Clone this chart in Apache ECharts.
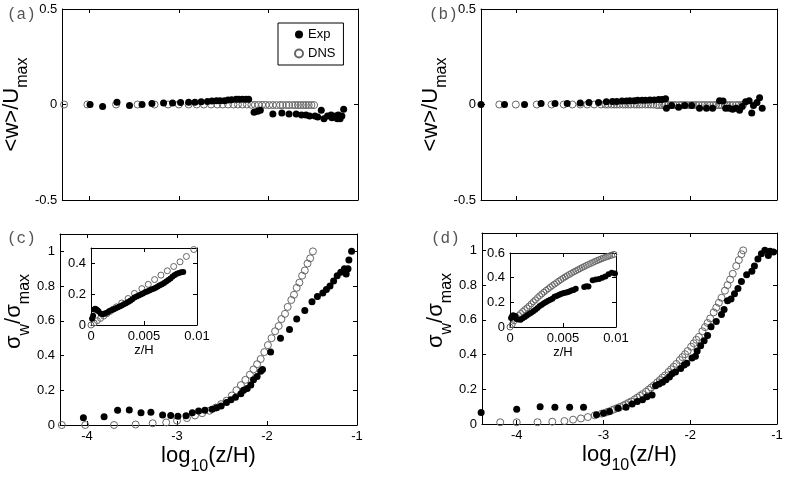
<!DOCTYPE html>
<html>
<head>
<meta charset="utf-8">
<script src="https://cdn.jsdelivr.net/npm/echarts@6/dist/echarts.min.js"></script>
<style>
  html, body { margin: 0; padding: 0; background: #fff; }
  #chart { width: 800px; height: 481px; }
</style>
</head>
<body>
<div id="chart"></div>
<script>
// tick positions
const logTicks = [-4, -3, -2, -1]
const wTicks = [-0.5, 0, 0.5]
const sigTicks = [0, 0.2, 0.4, 0.6, 0.8, 1]
const insetXTicks = [0, 0.005, 0.01]
const insetYTicksC = [0, 0.2, 0.4]
const insetYTicksD = [0, 0.2, 0.4, 0.6]

// (a) <w>/Umax, experiment [log10(z/H), value]
const expA = [[-3.99,0],[-3.85,-0.01],[-3.69,0.012],[-3.55,-0.005],[-3.41,0],[-3.30,0.005],[-3.17,0.008],[-3.07,0.008],
  [-2.98,0.01],[-2.89,0.012],[-2.82,0.012],[-2.75,0.014],[-2.68,0.016],[-2.63,0.018],[-2.58,0.02],[-2.54,0.02],
  [-2.49,0.02],[-2.45,0.023],[-2.41,0.025],[-2.36,0.027],[-2.33,0.028],[-2.29,0.028],[-2.25,0.028],[-2.22,0.028],
  [-2.16,-0.04],[-2.12,-0.035],[-2.09,-0.03],[-1.95,-0.05],[-1.85,-0.045],[-1.77,-0.05],[-1.69,-0.05],[-1.63,-0.055],
  [-1.58,-0.055],[-1.54,-0.06],[-1.48,-0.06],[-1.45,-0.065],[-1.41,-0.03],[-1.38,-0.075],[-1.34,-0.06],[-1.30,-0.055],
  [-1.29,-0.07],[-1.25,-0.06],[-1.23,-0.075],[-1.22,-0.055],[-1.20,-0.075],[-1.18,-0.06],[-1.16,-0.025]]

// DNS positions for (a) and (c)
const dnsXac = [-4.28,-4.02,-3.70,-3.46,-3.27,-3.12,-3.00,-2.89,-2.80,-2.72,-2.64,-2.57,-2.51,-2.45,-2.39,-2.34,
  -2.29,-2.24,-2.19,-2.15,-2.11,-2.07,-2.03,-1.99,-1.95,-1.91,-1.87,-1.84,-1.80,-1.77,-1.73,-1.70,-1.67,-1.64,
  -1.61,-1.58,-1.55,-1.52,-1.49]
const dnsYa = [0,0,0,0,0,0,0,0,0,0,0,0,0,0,0,0,0,0,-0.002,-0.002,-0.002,-0.002,-0.002,-0.003,-0.003,-0.003,
  -0.003,-0.003,-0.003,-0.003,-0.003,-0.003,-0.003,-0.003,-0.003,-0.003,-0.003,-0.003,-0.003]
const dnsYc = [0,0,0,0.003,0.01,0.015,0.025,0.04,0.055,0.068,0.082,0.1,0.12,0.14,0.17,0.2,0.23,0.26,0.29,0.32,
  0.35,0.38,0.42,0.46,0.5,0.54,0.57,0.61,0.64,0.68,0.72,0.75,0.79,0.82,0.86,0.89,0.93,0.96,1.0]

// (b) <w>/Umax, experiment
const expB = [[-4.40,0],[-4.13,0],[-3.90,0],[-3.71,0.005],[-3.55,0.005],[-3.41,0.005],[-3.26,0.008],[-3.16,0.01],
  [-3.05,0.01],[-2.96,0.014],[-2.89,0.016],[-2.84,0.016],[-2.78,0.018],[-2.73,0.018],[-2.69,0.02],[-2.64,0.02],
  [-2.60,0.022],[-2.55,0.022],[-2.51,0.022],[-2.46,0.024],[-2.41,0.024],[-2.36,0.026],[-2.32,0.026],[-2.28,0.03],
  [-2.27,-0.02],[-2.21,-0.005],[-2.13,-0.015],[-2.06,-0.005],[-1.98,-0.005],[-1.89,-0.02],[-1.81,-0.02],[-1.74,-0.02],
  [-1.66,0.02],[-1.62,0.018],[-1.59,-0.02],[-1.55,-0.02],[-1.51,-0.025],[-1.47,-0.02],[-1.43,-0.03],[-1.40,-0.01],
  [-1.36,0.015],[-1.32,0.02],[-1.29,-0.045],[-1.27,-0.005],[-1.23,0.01],[-1.20,0.035],[-1.17,-0.02]]

// DNS positions for (b) and (d)
const dnsXbd = [-4.19,-4.00,-3.76,-3.59,-3.45,-3.35,-3.26,-3.18,-3.10,-3.02,
  -2.97,-2.94,-2.90,-2.87,-2.84,-2.81,-2.77,-2.74,-2.71,-2.68,-2.64,-2.61,-2.58,-2.55,-2.51,-2.48,-2.45,-2.42,
  -2.38,-2.35,-2.32,-2.29,-2.25,-2.22,-2.19,-2.16,-2.12,-2.09,-2.06,-2.03,-1.99,-1.96,-1.93,-1.90,-1.86,-1.83,
  -1.80,-1.77,-1.73,-1.70,-1.67,-1.64,-1.60,-1.57,-1.54,-1.51,-1.47,-1.44,-1.41,-1.39]
const dnsYb = [0,0,0,0,0,0,0,0,0,0,
  0,0,0,0,0,0,0,0,0,0,0,0,0,0,0,0,0,0,
  -0.003,-0.003,-0.003,-0.003,-0.003,-0.003,-0.003,-0.003,-0.003,-0.003,-0.003,-0.003,-0.003,-0.003,-0.003,-0.003,-0.003,-0.003,
  -0.003,-0.003,-0.003,-0.003,-0.003,-0.003,-0.003,-0.003,-0.003,-0.003,-0.003,-0.003,-0.003,-0.003]
const dnsYd = [0.01,0.01,0.01,0.013,0.017,0.025,0.032,0.04,0.05,0.06,
  0.067,0.072,0.08,0.086,0.092,0.098,0.107,0.114,0.122,0.13,0.142,0.152,0.162,0.172,0.186,0.198,0.21,0.222,
  0.24,0.253,0.267,0.28,0.3,0.315,0.33,0.346,0.368,0.385,0.402,0.42,0.445,0.465,0.485,0.502,0.534,0.558,
  0.582,0.608,0.643,0.67,0.698,0.727,0.768,0.8,0.832,0.865,0.91,0.944,0.978,1.0]

// (c) sigma_w/sigma_max, experiment
const expC = [[-4.04,0.042],[-3.81,0.048],[-3.66,0.085],[-3.53,0.086],[-3.40,0.071],[-3.29,0.073],[-3.16,0.057],
  [-3.07,0.054],[-2.99,0.05],[-2.90,0.053],[-2.83,0.07],[-2.76,0.08],[-2.69,0.085],[-2.61,0.09],[-2.56,0.1],
  [-2.51,0.11],[-2.45,0.13],[-2.40,0.145],[-2.35,0.16],[-2.29,0.18],[-2.26,0.2],[-2.22,0.21],[-2.18,0.23],
  [-2.15,0.26],[-2.11,0.28],[-2.07,0.31],[-2.05,0.32],[-1.96,0.42],[-1.85,0.5],[-1.75,0.55],[-1.67,0.61],
  [-1.58,0.66],[-1.50,0.71],[-1.44,0.74],[-1.38,0.76],[-1.34,0.78],[-1.30,0.80],[-1.26,0.83],[-1.22,0.86],
  [-1.18,0.88],[-1.14,0.9],[-1.12,0.87],[-1.10,0.9],[-1.09,0.95],[-1.06,1.0]]

// (d) sigma_w/sigma_max, experiment
const expD = [[-4.41,0.066],[-4.00,0.085],[-3.73,0.1],[-3.56,0.097],[-3.39,0.097],[-3.23,0.097],[-3.08,0.053],
  [-3.00,0.062],[-2.93,0.072],[-2.83,0.09],[-2.74,0.097],[-2.67,0.115],[-2.61,0.13],[-2.55,0.14],[-2.50,0.157],
  [-2.44,0.167],[-2.40,0.22],[-2.36,0.23],[-2.32,0.24],[-2.28,0.255],[-2.24,0.27],[-2.21,0.29],[-2.17,0.3],
  [-2.11,0.32],[-2.07,0.34],[-2.04,0.35],[-1.98,0.38],[-1.94,0.39],[-1.92,0.42],[-1.88,0.45],[-1.84,0.48],
  [-1.80,0.51],[-1.76,0.56],[-1.70,0.59],[-1.64,0.63],[-1.61,0.66],[-1.57,0.71],[-1.53,0.72],[-1.49,0.75],
  [-1.45,0.78],[-1.41,0.82],[-1.35,0.86],[-1.29,0.88],[-1.26,0.91],[-1.22,0.95],[-1.18,0.98],[-1.14,1.0],
  [-1.10,0.97],[-1.08,0.995],[-1.04,0.99]]

// insets, linear z/H
const insetExpC = [[0.0001,0.04],[0.0002,0.06],[0.0003,0.1],[0.0004,0.105],[0.0005,0.1],[0.0006,0.095],[0.0007,0.09],
  [0.0009,0.075],[0.0011,0.07],[0.0013,0.075],[0.0015,0.08],[0.0017,0.09],[0.0019,0.095],[0.0021,0.1],[0.0023,0.107],
  [0.0025,0.113],[0.0027,0.12],[0.0029,0.127],[0.0031,0.135],[0.0033,0.142],[0.0035,0.15],[0.0037,0.157],[0.0039,0.168],
  [0.0041,0.178],[0.0043,0.185],[0.0045,0.192],[0.0047,0.198],[0.0049,0.205],[0.0051,0.212],[0.0053,0.218],
  [0.0055,0.224],[0.0057,0.23],[0.0059,0.236],[0.0061,0.242],[0.0063,0.25],[0.0065,0.258],[0.0067,0.265],
  [0.0069,0.273],[0.0071,0.282],[0.0073,0.292],[0.0075,0.302],[0.0077,0.315],[0.0079,0.325],[0.0081,0.332],
  [0.0083,0.338],[0.0085,0.342],[0.0087,0.344]]
const insetDnsC = [[0,0],[0.0003,0.013],[0.0006,0.028],[0.0009,0.043],[0.0012,0.058],[0.0015,0.073],[0.0018,0.088],
  [0.0021,0.103],[0.0024,0.118],[0.0029,0.143],[0.0035,0.172],[0.0041,0.205],[0.0048,0.236],[0.0054,0.264],
  [0.006,0.295],[0.0066,0.324],[0.0072,0.352],[0.0078,0.38],[0.0084,0.41],[0.009,0.445],[0.0097,0.49]]
const insetExpD = [[0.0001,0.073],[0.0002,0.09],[0.0003,0.095],[0.0004,0.085],[0.0005,0.09],[0.0006,0.065],[0.0008,0.06],
  [0.001,0.058],[0.0012,0.07],[0.0014,0.082],[0.0016,0.093],[0.0018,0.105],[0.002,0.115],[0.0022,0.128],[0.0024,0.14],
  [0.0026,0.155],[0.0028,0.17],[0.003,0.18],[0.0032,0.193],[0.0034,0.203],[0.0036,0.213],[0.0038,0.22],[0.004,0.23],
  [0.0042,0.245],[0.0044,0.252],[0.0046,0.26],[0.0048,0.267],[0.005,0.273],[0.0052,0.277],[0.0054,0.282],
  [0.0056,0.288],[0.0058,0.295],[0.006,0.3],[0.0062,0.31],[0.007,0.325],[0.0072,0.33],[0.0074,0.328],[0.0078,0.38],
  [0.0081,0.386],[0.0084,0.39],[0.0087,0.4],[0.009,0.41],[0.0093,0.427],[0.0096,0.44],[0.0099,0.433]]
const insetDnsDX = [0,0.0002,0.0004,0.0006,0.0008,0.001,0.0012,0.0014,0.0016,0.0018,0.002,0.0022,0.0024,0.0026,
  0.0028,0.003,0.0032,0.0034,0.0036,0.0038,0.004,0.0042,0.0044,0.0046,0.0048,0.005,0.0052,0.0054,0.0056,0.0058,
  0.006,0.0062,0.0064,0.0066,0.0068,0.007,0.0072,0.0074,0.0076,0.0078,0.008,0.0082,0.0084,0.0086,0.0088,0.009,
  0.0092,0.0094,0.0096,0.0098]
const insetDnsDY = [0,0.02,0.05,0.075,0.093,0.11,0.126,0.141,0.155,0.17,0.188,0.205,0.22,0.238,0.254,0.268,0.283,
  0.297,0.31,0.323,0.336,0.348,0.36,0.372,0.384,0.395,0.406,0.416,0.426,0.436,0.446,0.455,0.464,0.473,0.482,0.49,
  0.499,0.507,0.515,0.523,0.531,0.538,0.545,0.552,0.559,0.565,0.571,0.577,0.583,0.589]

const zip = (xs, ys) => xs.map((x, i) => [x, ys[i]])

const FONT = 'Liberation Sans'
const grids = [
  { left: 60, top: 9, width: 298, height: 191 },
  { left: 481, top: 9, width: 296, height: 191 },
  { left: 60, top: 234, width: 297, height: 191 },
  { left: 482, top: 233, width: 295, height: 191 },
  { left: 91, top: 248, width: 106, height: 77, show: true, backgroundColor: '#fff', borderWidth: 0, z: 5 },
  { left: 510, top: 253, width: 106, height: 74, show: true, backgroundColor: '#fff', borderWidth: 0, z: 5 }
]

const xAxes = []
const yAxes = []

function axisBase(gridIndex, min, max, ticks, showLabel, position, fontSize) {
  return {
    type: 'value', gridIndex: gridIndex, min: min, max: max, position: position,
    axisLine: { show: true, onZero: false, lineStyle: { color: '#000', width: 1 } },
    axisTick: { show: true, inside: true, length: 4, customValues: ticks, lineStyle: { color: '#000' } },
    axisLabel: { show: showLabel, customValues: ticks, color: '#000', fontSize: fontSize, fontFamily: FONT, margin: 5 },
    splitLine: { show: false },
    z: gridIndex >= 4 ? 6 : 1
  }
}

function addAxes(g, xr, xt, showX, yr, yt, fs, xName, yName) {
  const xb = axisBase(g, xr[0], xr[1], xt, showX, 'bottom', fs)
  if (xName) Object.assign(xb, xName)
  xAxes.push(xb, axisBase(g, xr[0], xr[1], xt, false, 'top', fs))
  const yl = axisBase(g, yr[0], yr[1], yt, true, 'left', fs)
  if (yName) Object.assign(yl, yName)
  yAxes.push(yl, axisBase(g, yr[0], yr[1], yt, false, 'right', fs))
}

const subRich = {
  a: { fontSize: 22, fontFamily: FONT, color: '#000', lineHeight: 30, verticalAlign: 'top' },
  s: { fontSize: 16, fontFamily: FONT, color: '#000', lineHeight: 16, verticalAlign: 'bottom' }
}
const logName = {
  name: '{a|log}{s|10}{a|(z/H)}', nameLocation: 'middle', nameGap: 20,
  nameTextStyle: { rich: subRich }
}
const wName = {
  name: '{a|<w>/U}{s|max}', nameLocation: 'middle', nameGap: 27, nameRotate: 90,
  nameTextStyle: { rich: subRich }
}
const sigName = {
  name: '{a|σ}{s|w}{a|/σ}{s|max}', nameLocation: 'middle', nameGap: 27, nameRotate: 90,
  nameTextStyle: { rich: subRich, padding: [0, 0, 0, 36] }
}
const zhName = {
  name: 'z/H', nameLocation: 'middle', nameGap: 18,
  nameTextStyle: { fontSize: 13, fontFamily: FONT, color: '#000' }
}

addAxes(0, [-4.3, -1], logTicks, false, [-0.5, 0.5], wTicks, 13, null, wName)
addAxes(1, [-4.4, -1], logTicks, false, [-0.5, 0.5], wTicks, 13, null, wName)
addAxes(2, [-4.3, -1], logTicks, true, [0, 1.1], sigTicks, 13, logName, sigName)
addAxes(3, [-4.4, -1], logTicks, true, [0, 1.1], sigTicks, 13, logName, sigName)
addAxes(4, [0, 0.01], insetXTicks, true, [0, 0.5], insetYTicksC, 13, zhName, null)
addAxes(5, [0, 0.01], insetXTicks, true, [0, 0.6], insetYTicksD, 13, zhName, null)

function expSeries(g, data, size) {
  return {
    name: 'Exp', type: 'scatter', xAxisIndex: 2 * g, yAxisIndex: 2 * g, data: data,
    symbol: 'circle', symbolSize: size, itemStyle: { color: '#000', opacity: 1 },
    z: g >= 4 ? 8 : 3, clip: false, silent: true
  }
}
function dnsSeries(g, data, size) {
  return {
    name: 'DNS', type: 'scatter', xAxisIndex: 2 * g, yAxisIndex: 2 * g, data: data,
    symbol: 'circle', symbolSize: size,
    itemStyle: { color: 'rgba(255,255,255,0)', borderColor: '#666', borderWidth: 1, opacity: 1 },
    z: g >= 4 ? 7 : 2, clip: false, silent: true
  }
}

const panelLabel = (text, x, y) => ({
  type: 'text', left: x, top: y,
  style: { text: text, font: '16px "Liberation Mono"', fill: '#555' }
})

const chart = echarts.init(document.getElementById('chart'), null, { renderer: 'canvas' })
chart.setOption({
  backgroundColor: '#fff',
  animation: false,
  grid: grids,
  xAxis: xAxes,
  yAxis: yAxes,
  legend: {
    data: ['Exp', 'DNS'], orient: 'vertical', left: 278, top: 23,
    backgroundColor: '#fff', borderColor: '#000', borderWidth: 1,
    padding: [5, 8, 5, 16], itemGap: 6, itemWidth: 8, itemHeight: 8,
    textStyle: { fontSize: 13, fontFamily: FONT, color: '#000' }
  },
  graphic: [
    panelLabel('(a)', 7, 7),
    panelLabel('(b)', 429, 7),
    panelLabel('(c)', 7, 231),
    panelLabel('(d)', 431, 231)
  ],
  series: [
    dnsSeries(0, zip(dnsXac, dnsYa), 7),
    expSeries(0, expA, 7),
    dnsSeries(1, zip(dnsXbd, dnsYb), 7),
    expSeries(1, expB, 7),
    dnsSeries(2, zip(dnsXac, dnsYc), 7),
    expSeries(2, expC, 7),
    dnsSeries(3, zip(dnsXbd, dnsYd), 7),
    expSeries(3, expD, 7),
    dnsSeries(4, insetDnsC, 6),
    expSeries(4, insetExpC, 6),
    dnsSeries(5, zip(insetDnsDX, insetDnsDY), 6),
    expSeries(5, insetExpD, 6)
  ]
})
</script>
</body>
</html>
